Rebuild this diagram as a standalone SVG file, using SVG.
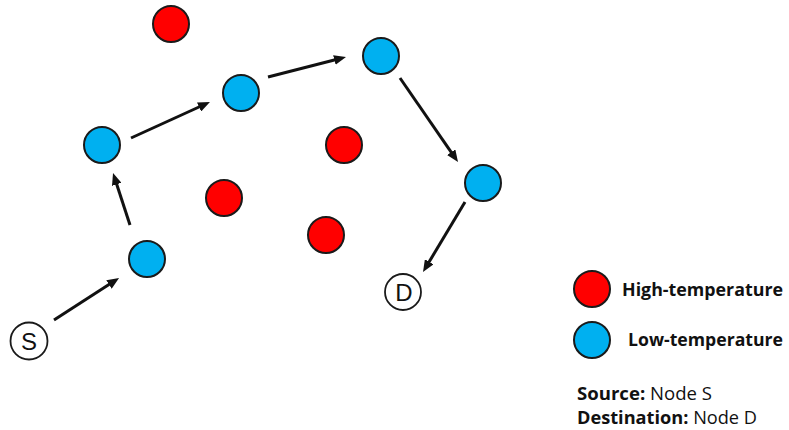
<svg xmlns="http://www.w3.org/2000/svg" width="789" height="430" viewBox="0 0 789 430">
  <style>
    .hot { fill: #FF0000; stroke: #1a1a1a; stroke-width: 2; }
    .cold { fill: #00B0F0; stroke: #1a1a1a; stroke-width: 2; }
    .end { fill: #ffffff; stroke: #1a1a1a; stroke-width: 1.8; }
    .endlabel { font-family: "Liberation Sans", Arial, sans-serif; font-size: 24px; fill: #111; text-anchor: middle; }
    .link { stroke: #111; stroke-width: 3; fill: none; marker-end: url(#head); }
    .legend { font-family: "Open Sans", "Liberation Sans", sans-serif; font-size: 17.5px; fill: #111; }
    .b { font-weight: bold; }
  </style>
  <defs>
    <marker id="head" markerUnits="userSpaceOnUse" viewBox="0 0 12 10" markerWidth="12" markerHeight="10" refX="6" refY="5" orient="auto">
      <path d="M0,0 L12,5 L0,10 z" fill="#111"/>
    </marker>
  </defs>
  <rect width="789" height="430" fill="#ffffff"/>

  <!-- routing path connectors -->
  <g id="connectors">
    <line class="link" x1="54" y1="320" x2="114" y2="281.3"/>
    <line class="link" x1="130" y1="225" x2="114.9" y2="178.7"/>
    <line class="link" x1="131" y1="138" x2="204.5" y2="104.5"/>
    <line class="link" x1="268" y1="77" x2="340.2" y2="58.5"/>
    <line class="link" x1="400" y1="78" x2="454.6" y2="157.1"/>
    <line class="link" x1="465" y1="202" x2="426.1" y2="266.9"/>
  </g>

  <!-- high-temperature nodes -->
  <g id="hot1"><circle class="hot" cx="171" cy="24" r="18"/></g>
  <g id="hot2"><circle class="hot" cx="344" cy="145" r="18"/></g>
  <g id="hot3"><circle class="hot" cx="224" cy="198" r="18"/></g>
  <g id="hot4"><circle class="hot" cx="326" cy="235" r="18"/></g>

  <!-- low-temperature nodes -->
  <g id="cold1"><circle class="cold" cx="102" cy="145" r="18"/></g>
  <g id="cold2"><circle class="cold" cx="241" cy="93" r="18"/></g>
  <g id="cold3"><circle class="cold" cx="381" cy="56" r="18"/></g>
  <g id="cold4"><circle class="cold" cx="483" cy="183" r="18"/></g>
  <g id="cold5"><circle class="cold" cx="147" cy="259" r="18"/></g>

  <!-- source and destination -->
  <g id="nodeS">
    <circle class="end" cx="29" cy="341" r="18.5"/>
    <text class="endlabel" x="29" y="350">S</text>
  </g>
  <g id="nodeD">
    <circle class="end" cx="403" cy="292" r="18"/>
    <text class="endlabel" x="404" y="301">D</text>
  </g>

  <!-- legend -->
  <g id="legend">
    <circle class="hot" cx="592" cy="289" r="18"/>
    <text class="legend b" x="622" y="296" textLength="161" lengthAdjust="spacingAndGlyphs">High-temperature</text>
    <circle class="cold" cx="592" cy="340" r="18"/>
    <text class="legend b" x="628" y="346" textLength="155" lengthAdjust="spacingAndGlyphs">Low-temperature</text>
    <text class="legend" x="577" y="400" textLength="135" lengthAdjust="spacingAndGlyphs"><tspan class="b">Source:</tspan> Node S</text>
    <text class="legend" x="577" y="424" textLength="180" lengthAdjust="spacingAndGlyphs"><tspan class="b">Destination:</tspan> Node D</text>
  </g>
</svg>
